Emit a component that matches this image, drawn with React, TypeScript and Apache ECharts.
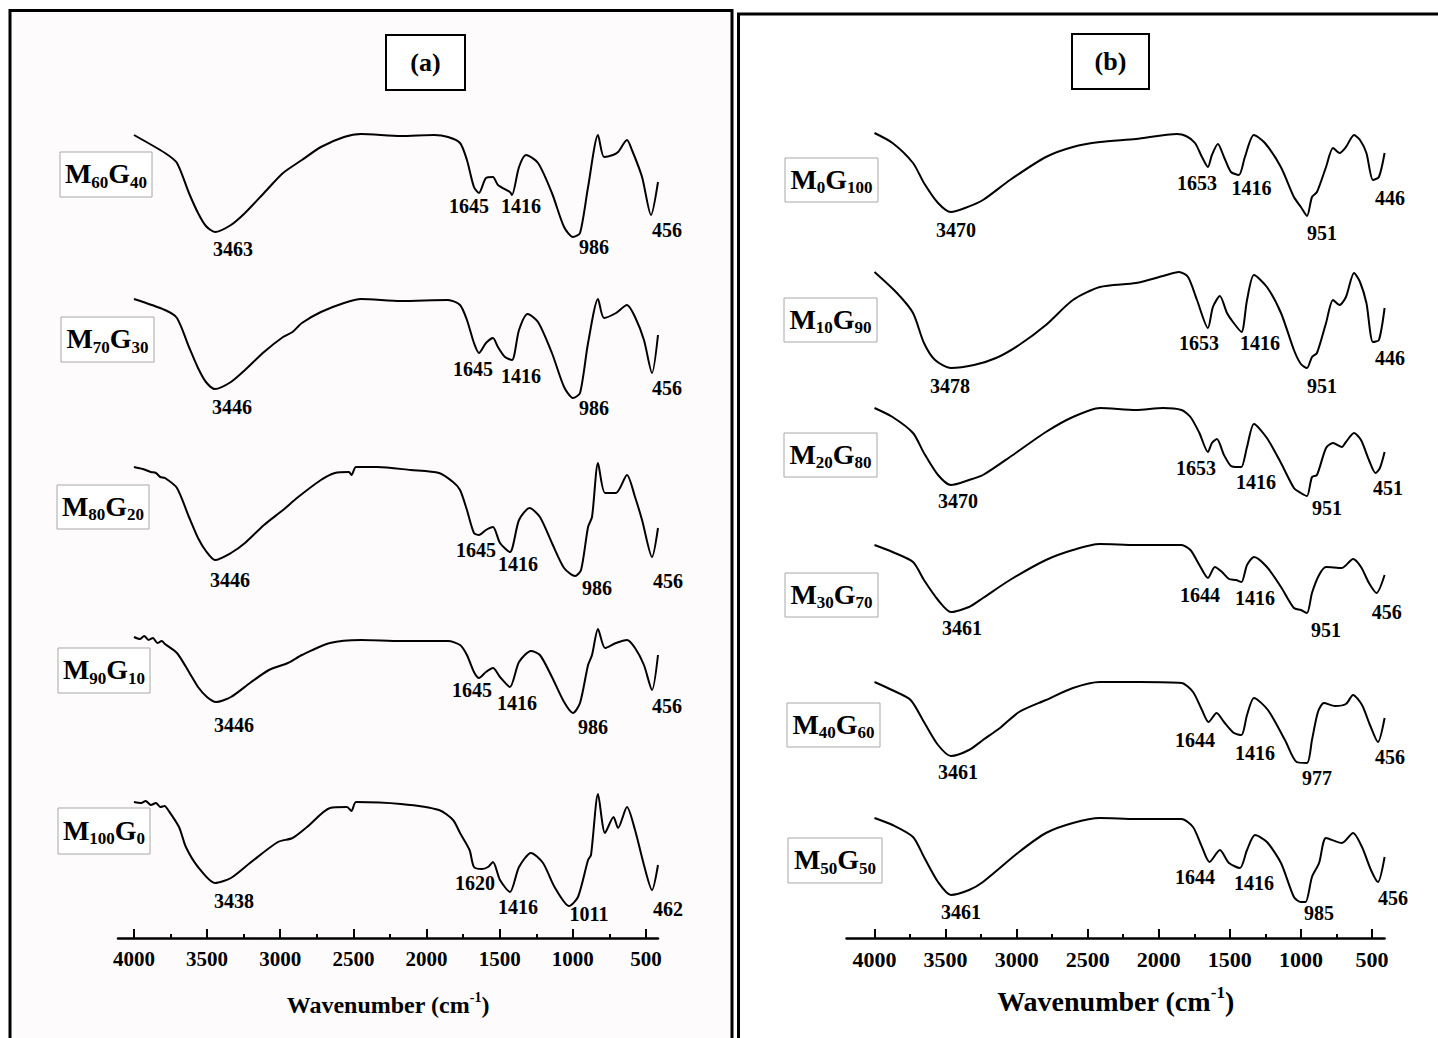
import React, { useEffect, useRef } from "react";
import * as echarts from "echarts";

const FONT = "'Liberation Serif', 'Times New Roman', serif";

// ---------- Panel (a): wavenumber (cm-1), stacked transmittance (a.u.) ----------
const m60g40: number[][] = [[4000,80.3],[3788,78.5],[3706,77.5],[3624,74.5],[3562,72.5],[3508,71.2],[3446,70.6],[3337,71.3],[3241,72.5],[3111,74.5],[2981,76.5],[2852,77.8],[2722,79.1],[2564,80.1],[2448,80.4],[2175,80.2],[1949,80.3],[1853,80.1],[1771,79.5],[1724,77.8],[1676,75.1],[1642,74.5],[1594,76.0],[1546,76.1],[1512,75.3],[1430,74.6],[1416,74.3],[1368,77.1],[1320,78.3],[1238,77.5],[1143,74.5],[1060,71.1],[999,70.1],[951,70.5],[896,75.1],[828,80.3],[787,78.1],[726,78.3],[691,78.6],[630,79.8],[596,78.8],[527,76.1],[466,72.3],[418,75.6]];
const m70g30: number[][] = [[4000,63.9],[3788,62.8],[3706,62.0],[3624,59.1],[3562,57.0],[3508,55.6],[3446,54.9],[3337,55.6],[3241,56.8],[3111,58.6],[2981,60.1],[2916,60.6],[2852,61.5],[2722,62.6],[2564,63.5],[2448,63.9],[2175,63.7],[1853,63.8],[1771,63.3],[1724,61.8],[1676,59.5],[1642,58.5],[1594,59.5],[1546,60.0],[1512,59.1],[1464,58.1],[1416,57.8],[1368,60.8],[1309,62.4],[1238,61.6],[1143,58.5],[1060,55.1],[999,54.0],[951,54.5],[896,59.5],[828,63.9],[787,62.0],[705,62.5],[630,63.3],[575,62.1],[514,59.8],[459,56.5],[418,60.3]];
const m80g20: number[][] = [[4000,47.1],[3940,46.9],[3884,46.6],[3850,46.5],[3820,46.1],[3788,46.0],[3706,45.0],[3624,42.1],[3562,40.0],[3508,38.7],[3446,37.8],[3337,38.5],[3241,39.5],[3111,41.3],[2981,42.8],[2886,44.0],[2722,45.8],[2626,46.5],[2531,46.6],[2513,46.3],[2482,47.1],[2335,47.1],[2109,46.8],[1915,46.5],[1819,45.6],[1771,44.8],[1724,42.8],[1676,40.5],[1642,40.3],[1594,40.8],[1546,41.1],[1498,39.5],[1430,38.6],[1368,41.8],[1296,43.0],[1225,42.1],[1143,39.5],[1060,37.0],[985,36.2],[944,36.8],[896,41.1],[869,42.1],[828,47.5],[780,44.5],[705,44.5],[630,46.3],[575,44.1],[527,41.8],[459,38.1],[418,41.0]];
const m90g10: number[][] = [[4000,30.1],[3960,29.9],[3930,30.2],[3900,29.8],[3870,30.0],[3840,29.5],[3810,29.7],[3788,29.4],[3706,28.5],[3624,26.6],[3562,25.1],[3501,24.1],[3439,23.6],[3337,24.1],[3207,25.5],[3077,26.8],[2947,27.5],[2852,28.3],[2660,29.5],[2448,29.8],[2175,29.7],[1853,29.7],[1771,29.3],[1724,28.3],[1676,26.6],[1642,26.0],[1594,26.6],[1546,27.0],[1498,26.1],[1430,25.1],[1368,27.6],[1286,28.7],[1225,28.3],[1143,26.1],[1060,23.6],[999,22.5],[951,23.5],[896,27.3],[869,28.3],[828,30.9],[780,29.0],[705,29.5],[630,29.8],[575,29.0],[514,27.3],[459,24.8],[418,28.3]];
const m100g0: number[][] = [[4000,13.6],[3950,13.5],[3920,13.7],[3884,13.3],[3850,13.5],[3820,13.1],[3790,13.2],[3771,12.9],[3692,11.1],[3645,9.1],[3562,7.1],[3446,5.5],[3337,6.0],[3207,7.5],[3016,9.6],[2916,10.0],[2817,11.1],[2660,13.0],[2544,13.1],[2513,12.7],[2482,13.6],[2175,13.4],[1915,12.8],[1819,11.8],[1771,10.5],[1706,8.8],[1676,7.1],[1621,6.9],[1580,7.1],[1546,7.6],[1498,5.8],[1430,4.6],[1368,7.1],[1286,8.5],[1204,7.5],[1125,5.1],[1026,3.2],[965,4.1],[896,7.8],[876,8.3],[828,14.4],[780,10.5],[722,12.1],[691,11.0],[630,13.1],[575,10.8],[514,7.3],[459,4.8],[418,7.3]];

// ---------- Panel (b) ----------
const m0g100: number[][] = [[4000,80.5],[3873,79.5],[3729,77.5],[3652,75.5],[3553,73.5],[3462,72.6],[3363,73.0],[3237,73.8],[3047,75.8],[2794,78.1],[2604,79.1],[2414,79.6],[2160,79.9],[1872,80.4],[1808,80.2],[1745,79.5],[1696,78.1],[1654,77.1],[1626,78.3],[1584,79.4],[1541,78.1],[1492,76.6],[1436,76.3],[1394,78.1],[1331,80.3],[1253,79.5],[1141,77.1],[1049,74.1],[1000,73.1],[957,72.2],[922,74.1],[887,74.6],[823,77.1],[774,79.0],[728,78.5],[683,79.1],[626,80.3],[584,79.8],[539,78.5],[493,75.8],[451,76.1],[411,78.5]];
const m10g90: number[][] = [[4000,66.6],[3842,64.5],[3729,62.5],[3652,59.5],[3574,57.8],[3462,57.0],[3300,57.3],[3145,58.0],[2983,59.3],[2794,61.3],[2604,63.8],[2414,65.1],[2160,65.5],[1970,66.2],[1858,66.6],[1794,66.1],[1731,63.8],[1654,61.0],[1619,63.1],[1570,64.2],[1520,62.5],[1478,61.6],[1418,60.6],[1379,63.8],[1330,66.3],[1239,65.1],[1140,62.5],[1049,58.8],[1000,57.4],[957,57.0],[922,58.1],[887,58.5],[823,61.5],[774,63.8],[728,63.3],[683,64.1],[626,66.5],[584,65.6],[539,63.5],[493,59.6],[451,59.8],[411,63.0]];
const m20g80: number[][] = [[4000,53.0],[3873,52.1],[3729,50.5],[3652,48.5],[3553,46.3],[3462,45.3],[3335,45.8],[3237,46.3],[3047,48.1],[2794,50.6],[2604,52.1],[2414,53.0],[2160,52.8],[1970,53.0],[1840,52.8],[1777,52.1],[1714,50.5],[1654,48.6],[1626,49.5],[1591,49.9],[1541,48.3],[1492,47.2],[1443,47.1],[1418,47.1],[1379,49.1],[1330,51.4],[1239,50.0],[1140,47.5],[1049,45.0],[1000,44.5],[957,44.2],[922,46.1],[887,46.3],[823,49.0],[774,49.5],[711,49.1],[683,49.6],[626,50.5],[577,49.8],[521,47.8],[475,46.5],[444,47.0],[411,48.6]];
const m30g70: number[][] = [[4000,39.3],[3873,38.6],[3729,37.6],[3652,35.8],[3553,33.8],[3462,32.6],[3335,33.1],[3237,34.0],[3047,35.8],[2794,37.8],[2604,38.8],[2414,39.4],[2160,39.3],[1840,39.3],[1777,38.8],[1714,37.3],[1654,36.0],[1605,37.1],[1555,36.6],[1506,35.9],[1457,35.8],[1418,35.6],[1379,37.3],[1330,38.1],[1239,37.1],[1140,35.1],[1049,33.0],[1000,32.8],[957,32.5],[922,34.5],[872,36.3],[823,37.1],[711,37.0],[633,37.9],[577,37.1],[521,35.5],[468,34.5],[411,36.3]];
const m40g60: number[][] = [[4000,25.6],[3877,24.8],[3746,23.8],[3652,21.6],[3553,19.3],[3462,18.2],[3335,18.8],[3237,19.8],[3117,21.0],[2983,22.6],[2794,23.8],[2604,25.0],[2414,25.6],[2133,25.6],[1840,25.5],[1759,24.6],[1696,22.8],[1650,21.6],[1593,22.5],[1541,21.6],[1471,20.5],[1418,20.3],[1379,22.3],[1330,24.0],[1232,22.8],[1112,19.8],[1030,17.6],[957,17.5],[922,19.8],[880,22.6],[838,23.5],[760,23.2],[683,23.4],[633,24.3],[570,23.3],[514,21.3],[458,19.6],[411,22.0]];
const m50g50: number[][] = [[4000,12.0],[3873,11.3],[3729,10.1],[3652,8.1],[3553,5.6],[3462,4.3],[3335,4.8],[3237,5.6],[2983,8.6],[2794,10.5],[2604,11.5],[2414,12.0],[2160,11.9],[1840,11.9],[1759,11.1],[1696,9.1],[1643,7.6],[1570,8.8],[1506,7.5],[1429,7.0],[1379,8.8],[1323,10.3],[1239,9.6],[1140,7.5],[1049,4.1],[1000,3.6],[967,3.6],[922,6.1],[872,7.5],[823,10.0],[711,9.5],[633,10.5],[570,9.1],[507,6.8],[458,5.6],[411,8.1]];

// Peak annotations: [text, wavenumber, level]
const peaksA: (string | number)[][] = [
  ["3463",3323,68.9],["1645",1710,73.2],["1416",1354,73.2],["986",855,69.1],["456",356,70.8],
  ["3446",3330,53.1],["1645",1683,56.9],["1416",1354,56.2],["986",855,53.0],["456",356,55.0],
  ["3446",3344,35.8],["1645",1662,38.8],["1416",1375,37.4],["986",835,35.0],["456",350,35.7],
  ["3446",3316,21.3],["1645",1689,24.8],["1416",1382,23.5],["986",862,21.1],["456",356,23.2],
  ["3438",3316,3.7],["1620",1669,5.5],["1416",1375,3.1],["1011",890,2.4],["462",350,2.9],
];
const peaksB: (string | number)[][] = [
  ["3470",3427,70.8],["1653",1731,75.5],["1416",1348,75.0],["951",852,70.5],["446",373,74.0],
  ["3478",3469,55.2],["1653",1717,59.5],["1416",1288,59.5],["951",852,55.2],["446",373,58.0],
  ["3470",3413,43.7],["1653",1738,47.0],["1416",1315,45.6],["951",817,43.0],["451",387,45.0],
  ["3461",3384,31.0],["1644",1710,34.3],["1416",1323,34.0],["951",823,30.8],["456",395,32.6],
  ["3461",3413,16.6],["1644",1745,19.8],["1416",1323,18.5],["977",887,16.0],["456",373,18.1],
  ["3461",3392,2.6],["1644",1745,6.1],["1416",1330,5.5],["985",872,2.5],["456",352,4.0],
];

const seriesA = [m60g40, m70g30, m80g20, m90g10, m100g0];
const seriesB = [m0g100, m10g90, m20g80, m30g70, m40g60, m50g50];
const namesA = ["M60G40", "M70G30", "M80G20", "M90G10", "M100G0"];
const namesB = ["M0G100", "M10G90", "M20G80", "M30G70", "M40G60", "M50G50"];
const richNamesA = ["{m|M}{s|60}{m|G}{s|40}", "{m|M}{s|70}{m|G}{s|30}", "{m|M}{s|80}{m|G}{s|20}", "{m|M}{s|90}{m|G}{s|10}", "{m|M}{s|100}{m|G}{s|0}"];
const richNamesB = ["{m|M}{s|0}{m|G}{s|100}", "{m|M}{s|10}{m|G}{s|90}", "{m|M}{s|20}{m|G}{s|80}", "{m|M}{s|30}{m|G}{s|70}", "{m|M}{s|40}{m|G}{s|60}", "{m|M}{s|50}{m|G}{s|50}"];

const majorTicks = [500, 1000, 1500, 2000, 2500, 3000, 3500, 4000];
const minorTicks = [750, 1250, 1750, 2250, 2750, 3250, 3750];

// layout boxes for sample names [x, y, w, h]
const boxesA = [[60,152,92,45],[61,317,93,45],[57,485,92,44],[58,648,92,45],[58,808,92,46]];
const boxesB = [[785,158,93,44],[784,298,93,44],[784,433,93,44],[785,573,93,44],[787,703,93,44],[788,838,94,45]];

function nameBox(b: number[], rich: string) {
  return {
    type: "group",
    children: [
      { type: "rect", shape: { x: b[0], y: b[1], width: b[2], height: b[3] },
        style: { fill: "#fff", stroke: "#a8a8a8", lineWidth: 1 } },
      { type: "text", x: b[0] + b[2] / 2, y: b[1] + b[3] / 2 - 1,
        style: {
          text: rich, align: "center", verticalAlign: "middle",
          fontFamily: FONT, fontWeight: "bold", fontSize: 28, lineHeight: 30, fill: "#000",
          rich: {
            m: { fontFamily: FONT, fontWeight: "bold", fontSize: 28, lineHeight: 30, fill: "#000" },
            s: { fontFamily: FONT, fontWeight: "bold", fontSize: 17, height: 13, lineHeight: 13, verticalAlign: "bottom", fill: "#000" },
          },
        } },
    ],
  };
}

function xAxisPair(grid: number, min: number, max: number, fs: number, nameFs: number, nameGap: number) {
  return [
    {
      type: "value", gridIndex: grid, min, max, inverse: true, position: "bottom",
      axisLine: { show: true, onZero: false, lineStyle: { color: "#000", width: 2.5 } },
      axisTick: { show: true, inside: true, length: 9, customValues: majorTicks, lineStyle: { color: "#000", width: 2 } },
      axisLabel: { show: true, customValues: majorTicks, margin: 10, color: "#000", fontFamily: FONT, fontWeight: "bold", fontSize: fs,
        formatter: (v: number) => String(v) },
      splitLine: { show: false },
      name: "Wavenumber (cm{sup|-1})", nameLocation: "middle", nameGap,
      nameTextStyle: {
        color: "#000", fontFamily: FONT, fontWeight: "bold", fontSize: nameFs, lineHeight: nameFs + 6,
        rich: { sup: { color: "#000", fontFamily: FONT, fontWeight: "bold", fontSize: Math.round(nameFs * 0.6), lineHeight: 14, verticalAlign: "top" } },
      },
    },
    {
      type: "value", gridIndex: grid, min, max, inverse: true, position: "bottom",
      axisLine: { show: false },
      axisTick: { show: true, inside: true, length: 4, customValues: minorTicks, lineStyle: { color: "#000", width: 2 } },
      axisLabel: { show: false },
      splitLine: { show: false },
    },
  ];
}

export default function App() {
  const ref = useRef<HTMLDivElement>(null);
  useEffect(() => {
    if (!ref.current) return;
    const chart = echarts.init(ref.current, null, { renderer: "svg" });
    const lineStyle = { color: "#000", width: 2 };
    const series: any[] = [];
    seriesA.forEach((d, i) => series.push({
      type: "line", name: namesA[i], xAxisIndex: 0, yAxisIndex: 0, data: d,
      showSymbol: false, smooth: 0.25, lineStyle, z: 3,
    }));
    seriesB.forEach((d, i) => series.push({
      type: "line", name: namesB[i], xAxisIndex: 2, yAxisIndex: 1, data: d,
      showSymbol: false, smooth: 0.25, lineStyle, z: 3,
    }));
    const labelCfg = { show: true, position: "inside", formatter: "{b}", color: "#000", opacity: 1, textBorderWidth: 0,
      fontFamily: FONT, fontWeight: "bold", fontSize: 20 };
    const scatterBase = { type: "scatter", clip: false, symbolSize: 0.01, itemStyle: { color: "#000", opacity: 1 },
      label: labelCfg, silent: true, z: 4 };
    series.push({ ...scatterBase, xAxisIndex: 0, yAxisIndex: 0,
      data: peaksA.map((p) => ({ name: p[0], value: [p[1], p[2]] })) });
    series.push({ ...scatterBase, xAxisIndex: 2, yAxisIndex: 1,
      data: peaksB.map((p) => ({ name: p[0], value: [p[1], p[2]] })) });

    const graphics: any[] = [
      { type: "rect", z: -10, shape: { x: 10, y: 10.5, width: 722, height: 1100 },
        style: { fill: "#fdfbfb", stroke: "#000", lineWidth: 3 } },
      { type: "rect", z: -10, shape: { x: 738.5, y: 14, width: 720, height: 1100 },
        style: { fill: "#fff", stroke: "#000", lineWidth: 3 } },
      { type: "rect", shape: { x: 386, y: 35, width: 79, height: 55 }, style: { fill: "#fff", stroke: "#000", lineWidth: 2 } },
      { type: "text", x: 425.5, y: 62.5, style: { text: "(a)", align: "center", verticalAlign: "middle", fontFamily: FONT, fontWeight: "bold", fontSize: 26, fill: "#000" } },
      { type: "rect", shape: { x: 1072, y: 34, width: 77, height: 55 }, style: { fill: "#fff", stroke: "#000", lineWidth: 2 } },
      { type: "text", x: 1110.5, y: 61.5, style: { text: "(b)", align: "center", verticalAlign: "middle", fontFamily: FONT, fontWeight: "bold", fontSize: 26, fill: "#000" } },
    ];
    boxesA.forEach((b, i) => graphics.push(nameBox(b, richNamesA[i])));
    boxesB.forEach((b, i) => graphics.push(nameBox(b, richNamesB[i])));

    chart.setOption({
      animation: false,
      backgroundColor: "#fff",
      grid: [
        { left: 118, right: 780, top: 98, bottom: 100 },
        { left: 846.5, right: 53.4, top: 98, bottom: 100 },
      ],
      xAxis: [
        ...xAxisPair(0, 418, 4109, 21, 24, 52),
        ...xAxisPair(1, 411, 4197, 22, 28, 46),
      ],
      yAxis: [
        { type: "value", gridIndex: 0, min: 0, max: 84, show: false },
        { type: "value", gridIndex: 1, min: 0, max: 84, show: false },
      ],
      graphic: graphics,
      series,
    });
    return () => chart.dispose();
  }, []);
  return <div ref={ref} style={{ position: "fixed", left: 0, top: 0, width: 1438, height: 1038 }} />;
}
